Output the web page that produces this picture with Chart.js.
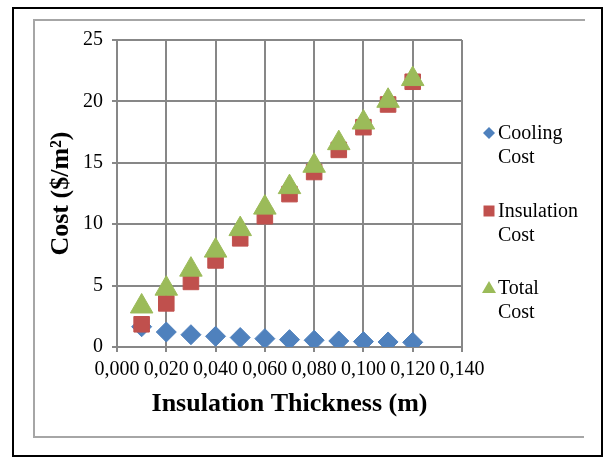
<!DOCTYPE html>
<html lang="en">
<head>
  <meta charset="UTF-8" />
  <title>Cost vs Insulation Thickness</title>
  <style>
    * { margin: 0; padding: 0; box-sizing: border-box; }
    body { background: #fff; }
    #wrap { width: 606px; height: 458px; }
  </style>
</head>
<body>
  <div id="wrap"><canvas id="costChart" width="606" height="458"></canvas></div>

  <script src="https://cdn.jsdelivr.net/npm/chart.js"></script>
  <script>
    // data
    const thickness = [0.01, 0.02, 0.03, 0.04, 0.05, 0.06, 0.07, 0.08, 0.09, 0.10, 0.11, 0.12];
    const coolingCost = [1.65, 1.22, 1.0, 0.87, 0.77, 0.68, 0.6, 0.55, 0.49, 0.44, 0.41, 0.38];
    const insulationCost = [1.85, 3.55, 5.3, 7.05, 8.85, 10.65, 12.45, 14.25, 16.05, 17.9, 19.75, 21.6];
    const totalCost = [3.3, 4.75, 6.3, 7.85, 9.6, 11.35, 13.02, 14.76, 16.6, 18.28, 20.05, 21.82];
    const xTickLabels = ['0,000', '0,020', '0,040', '0,060', '0,080', '0,100', '0,120', '0,140'];
    const yTickLabels = ['0', '5', '10', '15', '20', '25'];
    const seriesNames = [['Cooling', 'Cost'], ['Insulation', 'Cost'], ['Total', 'Cost']];

    const BLUE = '#4f81bd', RED = '#c0504d', GREEN = '#9bbb59';
    const GRID = '#878787';
    const SERIF = "'Liberation Serif', 'Times New Roman', serif";

    const toPoints = (ys) => ys.map((y, i) => ({ x: thickness[i], y: y }));

    // frames around the chart (black outer, gray inner)
    const framePlugin = {
      id: 'frames',
      beforeDraw(chart) {
        const ctx = chart.ctx;
        ctx.save();
        ctx.fillStyle = '#fff';
        ctx.fillRect(0, 0, chart.width, chart.height);
        ctx.strokeStyle = '#000';
        ctx.lineWidth = 2;
        ctx.strokeRect(13, 8, 589, 448);
        ctx.strokeStyle = '#a6a6a6';
        ctx.lineWidth = 2;
        ctx.beginPath();
        ctx.moveTo(585, 20);
        ctx.lineTo(34, 20);
        ctx.lineTo(34, 437);
        ctx.lineTo(584, 437);
        ctx.stroke();
        ctx.restore();
      }
    };

    // legend with two-line labels on the right
    const legendPlugin = {
      id: 'sideLegend',
      afterDraw(chart) {
        const ctx = chart.ctx;
        const rows = [133, 211, 288];
        ctx.save();
        ctx.font = '20px ' + SERIF;
        ctx.textBaseline = 'middle';
        chart.data.datasets.forEach((ds, i) => {
          const y = rows[i];
          const mx = 489;
          ctx.fillStyle = ds.backgroundColor;
          ctx.beginPath();
          if (ds.pointStyle === 'rectRot') {
            ctx.moveTo(mx - 6, y); ctx.lineTo(mx, y - 6); ctx.lineTo(mx + 6, y); ctx.lineTo(mx, y + 6);
          } else if (ds.pointStyle === 'rect') {
            ctx.rect(mx - 5.5, y - 5.5, 11, 11);
          } else {
            ctx.moveTo(mx, y - 7); ctx.lineTo(mx + 7, y + 5); ctx.lineTo(mx - 7, y + 5);
          }
          ctx.closePath();
          ctx.fill();
          ctx.fillStyle = '#000';
          ctx.fillText(seriesNames[i][0], 498, y + 1);
          ctx.fillText(seriesNames[i][1], 498, y + 25);
        });
        ctx.restore();
      }
    };

    new Chart(document.getElementById('costChart'), {
      type: 'scatter',
      data: {
        datasets: [{
          label: 'Cooling Cost',
          data: toPoints(coolingCost),
          backgroundColor: BLUE,
          borderColor: BLUE,
          pointStyle: 'rectRot',
          pointRadius: 10,
          borderWidth: 1,
          order: 2
        }, {
          label: 'Insulation Cost',
          data: toPoints(insulationCost),
          backgroundColor: RED,
          borderColor: RED,
          pointStyle: 'rect',
          pointRadius: 11,
          borderWidth: 1,
          order: 1
        }, {
          label: 'Total Cost',
          data: toPoints(totalCost),
          backgroundColor: GREEN,
          borderColor: GREEN,
          pointStyle: 'triangle',
          pointRadius: 13,
          borderWidth: 1,
          order: 0
        }]
      },
      options: {
        responsive: false,
        animation: false,
        events: [],
        layout: { padding: { left: 46, right: 144, top: 40, bottom: 38 } },
        plugins: {
          legend: { display: false },
          tooltip: { enabled: false }
        },
        scales: {
          x: {
            type: 'linear',
            min: 0,
            max: 0.14,
            afterFit: (s) => { s.height = 73; },
            afterBuildTicks: (s) => { s.ticks = xTickLabels.map((t, i) => ({ value: i * 0.02 })); },
            ticks: {
              callback: (v, i) => xTickLabels[i],
              font: { family: SERIF, size: 20 },
              color: '#000',
              padding: 6,
              maxRotation: 0,
              autoSkip: false
            },
            grid: { color: GRID, lineWidth: 2, tickLength: 5 },
            border: { color: GRID, width: 2 },
            title: {
              display: true,
              text: 'Insulation Thickness (m)',
              font: { family: SERIF, size: 26, weight: 'bold' },
              color: '#000',
              padding: 0
            }
          },
          y: {
            min: 0,
            max: 25,
            afterFit: (s) => { s.width = 71; },
            afterBuildTicks: (s) => { s.ticks = yTickLabels.map((t, i) => ({ value: i * 5 })); },
            ticks: {
              callback: (v, i) => yTickLabels[i],
              font: { family: SERIF, size: 20 },
              color: '#000',
              padding: 9
            },
            grid: { color: GRID, lineWidth: 2, tickLength: 5 },
            border: { color: GRID, width: 2 },
            title: {
              display: true,
              text: 'Cost ($/m²)',
              font: { family: SERIF, size: 26, weight: 'bold' },
              color: '#000',
              padding: 0
            }
          }
        }
      },
      plugins: [framePlugin, legendPlugin]
    });
  </script>
</body>
</html>
